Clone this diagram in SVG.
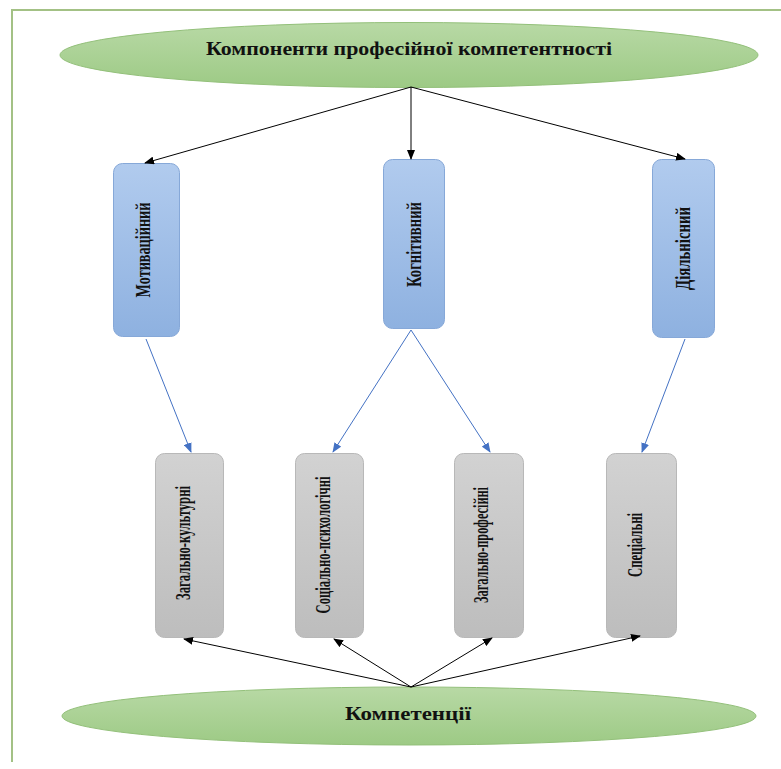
<svg xmlns="http://www.w3.org/2000/svg" width="781" height="769" viewBox="0 0 781 769">
<defs>
<linearGradient id="gGreen" x1="0" y1="0" x2="0" y2="1"><stop offset="0" stop-color="#b8d9a5"/><stop offset="1" stop-color="#9dca85"/></linearGradient>
<linearGradient id="gBlue" x1="0" y1="0" x2="0" y2="1"><stop offset="0" stop-color="#b1cbee"/><stop offset="1" stop-color="#8eb1e0"/></linearGradient>
<linearGradient id="gGray" x1="0" y1="0" x2="0" y2="1"><stop offset="0" stop-color="#d2d2d2"/><stop offset="1" stop-color="#bdbdbd"/></linearGradient>
<marker id="ab" markerUnits="userSpaceOnUse" markerWidth="10" markerHeight="8" refX="9" refY="4" orient="auto"><path d="M0,0 L10,4 L0,8 Z" fill="#000"/></marker>
<marker id="au" markerUnits="userSpaceOnUse" markerWidth="10" markerHeight="8" refX="9" refY="4" orient="auto"><path d="M0,0 L10,4 L0,8 Z" fill="#4472c4"/></marker>
</defs>
<style>
.ell{fill:url(#gGreen);stroke:#93c07a;stroke-width:1}
.blue{fill:url(#gBlue);stroke:#86a8d8;stroke-width:1}
.gray{fill:url(#gGray);stroke:#b8b8b8;stroke-width:1}
.t{font-family:"Liberation Serif","Times New Roman",serif;font-weight:bold;fill:#111}
.v{font-size:22px}
.bk{stroke:#000;stroke-width:1;fill:none;marker-end:url(#ab)}
.bl{stroke:#4472c4;stroke-width:1;fill:none;marker-end:url(#au)}
</style>
<rect width="781" height="769" fill="#fff"/>
<path d="M12,762 V10 H781" fill="none" stroke="#a3c185" stroke-width="2"/>

<g id="top">
<ellipse class="ell" cx="409" cy="55" rx="349" ry="32.5"/>
<text class="t" x="409" y="55" font-size="19" text-anchor="middle" textLength="406" lengthAdjust="spacingAndGlyphs">Компоненти професійної компетентності</text>
</g>

<g id="bottom">
<ellipse class="ell" cx="409" cy="716" rx="347" ry="29"/>
<text class="t" x="408" y="720" font-size="19" text-anchor="middle" textLength="126" lengthAdjust="spacingAndGlyphs">Компетенції</text>
</g>

<g id="motiv">
<rect class="blue" x="113.5" y="163.5" width="66" height="173" rx="9"/>
<text class="t v" transform="translate(150,250) rotate(-90)" text-anchor="middle" textLength="95" lengthAdjust="spacingAndGlyphs">Мотиваційний</text>
</g>
<g id="kogn">
<rect class="blue" x="383.5" y="159.5" width="61" height="169" rx="9"/>
<text class="t v" transform="translate(421,244.5) rotate(-90)" text-anchor="middle" textLength="85" lengthAdjust="spacingAndGlyphs">Когнітивний</text>
</g>
<g id="diyal">
<rect class="blue" x="652.5" y="159.5" width="62" height="178" rx="9"/>
<text class="t v" transform="translate(690,248.5) rotate(-90)" text-anchor="middle" textLength="83" lengthAdjust="spacingAndGlyphs">Діяльнісний</text>
</g>

<g id="zagkult">
<rect class="gray" x="155.5" y="453.5" width="68" height="184" rx="9"/>
<text class="t v" transform="translate(190,543) rotate(-90)" text-anchor="middle" textLength="114" lengthAdjust="spacingAndGlyphs">Загально-культурні</text>
</g>
<g id="sotspsykh">
<rect class="gray" x="295.5" y="453.5" width="68" height="184" rx="9"/>
<text class="t v" transform="translate(330,545) rotate(-90)" text-anchor="middle" textLength="137" lengthAdjust="spacingAndGlyphs">Соціально-психологічні</text>
</g>
<g id="zagprof">
<rect class="gray" x="454.5" y="453.5" width="69" height="184" rx="9"/>
<text class="t v" transform="translate(488,545) rotate(-90)" text-anchor="middle" textLength="116" lengthAdjust="spacingAndGlyphs">Загально-професійні</text>
</g>
<g id="spets">
<rect class="gray" x="606.5" y="453.5" width="70" height="184" rx="9"/>
<text class="t v" transform="translate(642,545) rotate(-90)" text-anchor="middle" textLength="64" lengthAdjust="spacingAndGlyphs">Спеціальні</text>
</g>

<g id="connectors">
<line class="bk" x1="411" y1="87" x2="145" y2="163"/>
<line class="bk" x1="411" y1="87" x2="411" y2="159"/>
<line class="bk" x1="411" y1="87" x2="685" y2="159"/>
<line class="bl" x1="146" y1="339" x2="191" y2="452"/>
<line class="bl" x1="411" y1="330" x2="333" y2="452"/>
<line class="bl" x1="411" y1="330" x2="490" y2="452"/>
<line class="bl" x1="685" y1="339" x2="642" y2="452"/>
<line class="bk" x1="411" y1="687" x2="184" y2="639"/>
<line class="bk" x1="411" y1="687" x2="334" y2="639"/>
<line class="bk" x1="411" y1="687" x2="492" y2="638"/>
<line class="bk" x1="411" y1="687" x2="640" y2="636"/>
</g>
</svg>
